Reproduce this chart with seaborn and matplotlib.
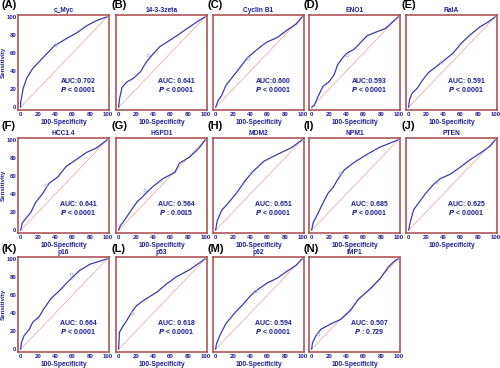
import matplotlib
matplotlib.use("Agg")
import matplotlib.pyplot as plt
import seaborn as sns
import pandas as pd

# panel names, labels and AUC / P values
markers = ["c_Myc", "14-3-3zeta", "Cyclin B1", "ENO1", "RalA",
           "HCC1.4", "HSPD1", "MDM2", "NPM1", "PTEN",
           "p16", "p53", "p62", "IMP1"]
letters = ["(A)", "(B)", "(C)", "(D)", "(E)", "(F)", "(G)",
           "(H)", "(I)", "(J)", "(K)", "(L)", "(M)", "(N)"]
auc_text = ["AUC:0.702", "AUC: 0.641", "AUC:0.600", "AUC:0.593", "AUC: 0.591",
            "AUC: 0.641", "AUC: 0.564", "AUC: 0.651", "AUC: 0.685", "AUC: 0.625",
            "AUC: 0.664", "AUC: 0.618", "AUC: 0.594", "AUC: 0.507"]
p_text = ["< 0.0001", "< 0.0001", "< 0.0001", "< 0.0001", "< 0.0001",
          "< 0.0001", ": 0.0015", "< 0.0001", "< 0.0001", "< 0.0001",
          "< 0.0001", "< 0.0001", "< 0.0001", ": 0.729"]

# ROC curves (100-Specificity, Sensitivity)
roc_x = [
    [0, 0, 3, 7, 14, 26, 39, 53, 66, 76, 88, 100],
    [0, 1, 4, 9.5, 17, 25, 32, 38, 47.5, 59, 70, 82, 93, 100],
    [0, 3, 7, 12, 20, 29, 37, 48, 59, 71, 82, 93, 100],
    [0, 3, 7, 13, 20, 26, 30, 36, 41, 49, 57, 64, 74, 85, 100],
    [0, 1, 4, 10, 15, 22.5, 32, 42, 51.5, 61, 71, 82.5, 92, 100],
    [0, 2, 5, 11.7, 17.5, 25, 33, 43, 52.5, 64, 76, 87.5, 100],
    [0, 2, 6, 13, 21, 28.5, 38, 51, 65, 70, 82, 93, 100],
    [0, 2, 7, 14.5, 24, 33.5, 43, 56, 71.5, 87, 100],
    [0, 2, 7.5, 13, 19, 24.5, 30, 38, 49, 64, 79, 100],
    [0, 2, 6, 11.5, 19, 29, 36.5, 48, 60, 71, 83, 94, 100],
    [0, 1, 4, 10, 14, 21, 27, 35, 45, 56, 68, 80, 100],
    [0, 1, 4, 9.5, 15, 21, 32, 44, 55, 66.5, 82, 100],
    [0, 1, 5, 12, 22, 31, 41, 48, 59, 71, 82, 93, 100],
    [0, 1, 5, 10.6, 22, 33.5, 45, 54, 68, 79, 88.6, 96, 100],
]
roc_y = [
    [0, 5, 21, 32, 43, 55, 68, 76, 83, 90, 96, 100],
    [0, 9, 22, 28, 32, 39, 50, 57, 67, 74, 81, 89, 96, 100],
    [0, 7.5, 13, 24.5, 34, 45, 55, 64, 72, 77, 85, 92, 100],
    [0, 2, 11, 23, 28, 36, 47, 55, 60, 64, 72, 79, 83, 87, 100],
    [0, 8, 15.5, 21, 28.5, 38, 45, 52.6, 60, 71, 80, 89, 94.4, 100],
    [0, 8, 12, 19.6, 31, 40, 52, 59, 70.6, 78, 86, 91, 100],
    [0, 5, 10, 20, 31, 38, 47, 57, 64, 74, 81, 91, 100],
    [0, 11, 22, 30, 41, 54, 65, 76.5, 84, 91, 100],
    [0, 9, 19, 30, 41, 47, 56, 67, 75, 84, 92, 100],
    [0, 9.5, 23, 30, 40, 51, 57, 62, 70, 78, 85.5, 93, 100],
    [0, 7.5, 15, 22, 30, 35.5, 45, 56, 65, 76, 87, 94, 100],
    [0, 18.7, 24, 32, 41, 48.5, 56, 63, 72, 80, 88, 100],
    [0, 6, 15.5, 28.5, 40, 49, 60, 65.5, 73, 78.5, 86, 93, 100],
    [0, 7, 15, 22, 28, 33, 43, 55.5, 67, 78, 91, 98, 100],
]
# optimal cut-off points (small open circles)
cut_x = [40, 34, 37, 41, 37, 29, 30, 41, 33, 32, 58, 16, 45.5, 7]
cut_y = [69, 58, 55, 58, 50, 50, 44, 63, 63, 53, 83, 40, 64, 17]

navy = "#1f1f8f"
frame = "#a8484a"
curve = "#3c3ca8"

sns.set_style("white")
plt.rcParams["font.family"] = ["Liberation Sans", "DejaVu Sans"]

fig = plt.figure(figsize=(5.0, 3.68), dpi=100)
W, H = 500, 368
col_left = [18, 116, 213, 309, 406]
row_top = [15, 138, 257]
label_y = [5, 126, 249]
pw, ph = 91, 95

for i, name in enumerate(markers):
    r, c = divmod(i, 5)
    l, t = col_left[c], row_top[r]
    ax = fig.add_axes([l / W, 1 - (t + ph) / H, pw / W, ph / H])
    df = pd.DataFrame({"x": roc_x[i], "y": roc_y[i]})
    ax.plot([0, 100], [0, 100], color="#eab0b0", lw=0.6)
    sns.lineplot(data=df, x="x", y="y", ax=ax, color=curve, lw=0.9,
                 estimator=None, sort=False)
    ax.plot(cut_x[i], cut_y[i], marker="o", ms=2.2, mfc="none",
            mec="#9aa6e0", mew=0.5)
    ax.set_xlim(-3, 102)
    ax.set_ylim(-3, 102)
    ax.set_xticks(range(0, 101, 20))
    ax.set_yticks(range(0, 101, 20))
    ax.set_xticks(range(0, 101, 5), minor=True)
    ax.set_yticks(range(0, 101, 5), minor=True)
    ax.tick_params(which="major", direction="in", length=2.2, width=0.6,
                   color=frame, labelsize=4.3, labelcolor=navy, pad=1.2)
    ax.tick_params(which="minor", direction="in", length=1.2, width=0.4,
                   color=frame)
    for lab in ax.get_xticklabels() + ax.get_yticklabels():
        lab.set_fontweight("bold")
    if c != 0:
        ax.set_yticklabels([])
        ax.set_ylabel("")
    else:
        ax.set_ylabel("Sensitivity", fontsize=4.5, color=navy,
                      fontweight="bold")
        ax.yaxis.set_label_coords(-0.13, 0.5)
    ax.set_xlabel("100-Specificity", fontsize=4.8, color=navy,
                  fontweight="bold", labelpad=1.5)
    for s in ax.spines.values():
        s.set_color(frame)
        s.set_linewidth(1.1)
    ax.set_title(name, fontsize=4.8, color=navy, fontweight="bold", pad=2)
    ax.text(67, 28, auc_text[i], fontsize=5, color=navy, fontweight="bold",
            ha="center", va="center")
    ax.text(67, 20, "$\\mathbfit{P}$ " + p_text[i], fontsize=5, color=navy,
            fontweight="bold", ha="center", va="center")
    lx = 2 if c == 0 else l - 5
    fig.text(lx / W, 1 - label_y[r] / H, letters[i], fontsize=8,
             fontweight="bold", color="black", va="center", ha="left")

fig.savefig("out.png", dpi=100)
